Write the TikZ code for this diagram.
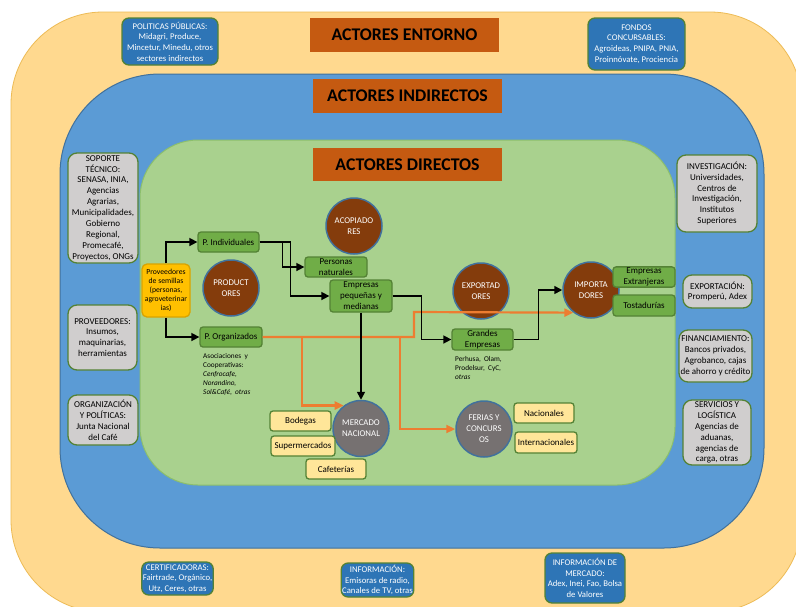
\documentclass[tikz,border=0pt]{standalone}
\usepackage{fontspec}
\setmainfont{Carlito}
\usetikzlibrary{arrows.meta}
\definecolor{yelreg}{HTML}{FFD98F}
\definecolor{yelline}{HTML}{EDBB55}
\definecolor{blureg}{HTML}{5B9BD5}
\definecolor{bluline}{HTML}{41719C}
\definecolor{grnreg}{HTML}{A9D18E}
\definecolor{grnline}{HTML}{8CBF6C}
\definecolor{titlec}{HTML}{C55A11}
\definecolor{boxblue}{HTML}{2E75B6}
\definecolor{dgreen}{HTML}{548235}
\definecolor{greyc}{HTML}{D0CECE}
\definecolor{mgreen}{HTML}{70AD47}
\definecolor{lyellow}{HTML}{FFE699}
\definecolor{provy}{HTML}{FFC000}
\definecolor{provline}{HTML}{D9A300}
\definecolor{brownc}{HTML}{843C0C}
\definecolor{greycirc}{HTML}{767171}
\definecolor{orangec}{HTML}{ED7D31}
\begin{document}
\begin{tikzpicture}[x=1pt,y=-1pt,
  titlebox/.style={fill=titlec, minimum width=189, minimum height=34, inner sep=0pt, font=\fontsize{17.8}{20}\selectfont\bfseries},
  bluebox/.style={draw=dgreen, line width=1.3, fill=boxblue, rounded corners=7, text=white, align=center, inner sep=1pt, font=\fontsize{8.7}{10.6}\selectfont},
  greybox/.style={draw=dgreen, line width=1.3, fill=greyc, rounded corners=9, align=center, inner sep=1pt, font=\fontsize{9}{10.9}\selectfont},
  gbox/.style={draw=dgreen, line width=1.3, fill=mgreen, rounded corners=3, align=center, inner sep=1pt, font=\fontsize{9}{10.9}\selectfont},
  ybox/.style={draw=dgreen, line width=1.3, fill=lyellow, rounded corners=3, align=center, inner sep=1pt, font=\fontsize{9}{10.9}\selectfont},
  provbox/.style={draw=provline, line width=1.3, fill=provy, rounded corners=5, align=center, inner sep=1pt, font=\fontsize{7.7}{8.9}\selectfont},
  bcirc/.style={circle, minimum size=56, inner sep=0pt, fill=brownc, draw=bluline, line width=1.5, text=white, align=center, font=\fontsize{8.8}{11}\selectfont},
  gcirc/.style={bcirc, fill=greycirc},
  note/.style={anchor=north west, inner sep=0pt, align=left, font=\fontsize{7.3}{9}\selectfont},
  arr/.style={line width=1.6, -{Triangle[length=8pt,width=8pt]}},
  oarr/.style={draw=orangec, line width=2.2, -{Triangle[length=9pt,width=8pt]}}
]
\useasboundingbox (0,0) rectangle (796,606);
\fill[white] (0,0) rectangle (796,606);
% regions
\draw[yelline, line width=0.8, fill=yelreg, rounded corners=92] (11,12) rectangle (802,612);
\draw[bluline, line width=1, fill=blureg, rounded corners=100] (60,74) rectangle (764,548);
\draw[grnline, line width=1, fill=grnreg, rounded corners=58] (140,140) rectangle (675,485);
% titles
\node[titlebox] (tE) at (404.5,35) {ACTORES ENTORNO};
\node[titlebox] (tI) at (407.5,96) {ACTORES INDIRECTOS};
\node[titlebox, minimum height=33] (tD) at (407.5,164.5) {ACTORES DIRECTOS};
% environment boxes
\node[bluebox, minimum width=96, minimum height=47] (pp) at (170,41.5) {POLITICAS PÚBLICAS:\\Midagri, Produce,\\Mincetur, Minedu, otros\\sectores indirectos};
\node[bluebox, minimum width=97, minimum height=52] (fc) at (636.5,44) {FONDOS\\CONCURSABLES:\\Agroideas, PNIPA, PNIA,\\Proinnóvate, Prociencia};
\node[bluebox, minimum width=71, minimum height=33] (cert) at (177.5,578.5) {CERTIFICADORAS:\\Fairtrade, Orgánico,\\Utz, Ceres, otras};
\node[bluebox, minimum width=71, minimum height=34] (info) at (377.5,580) {INFORMACIÓN:\\Emisoras de radio,\\Canales de TV, otras};
\node[bluebox, minimum width=80, minimum height=50] (infm) at (585,578) {INFORMACIÓN DE\\MERCADO:\\Adex, Inei, Fao, Bolsa\\de Valores};
% indirect boxes
\node[greybox, minimum width=70, minimum height=110] (sop) at (103,208) {SOPORTE\\TÉCNICO:\\SENASA, INIA,\\Agencias\\Agrarias,\\Municipalidades,\\Gobierno\\Regional,\\Promecafé,\\Proyectos, ONGs};
\node[greybox, minimum width=69, minimum height=65] (prv) at (102.5,337.5) {PROVEEDORES:\\Insumos,\\maquinarias,\\herramientas};
\node[greybox, minimum width=70, minimum height=50] (org) at (103,420) {ORGANIZACIÓN\\Y POLÍTICAS:\\Junta Nacional\\del Café};
\node[greybox, minimum width=80, minimum height=77] (inv) at (717,193.5) {INVESTIGACIÓN:\\Universidades,\\Centros de\\Investigación,\\Institutos\\Superiores};
\node[greybox, minimum width=69, minimum height=33] (exp) at (717.5,291.5) {EXPORTACIÓN:\\Promperú, Adex};
\node[greybox, minimum width=73, minimum height=52] (fin) at (715.5,356) {FINANCIAMIENTO:\\Bancos privados,\\Agrobanco, cajas\\de ahorro y crédito};
\node[greybox, minimum width=68, minimum height=65] (serv) at (717,432.5) {SERVICIOS Y\\LOGÍSTICA\\Agencias de\\aduanas,\\agencias de\\carga, otras};
% direct actors: circles
\node[bcirc] (prod) at (231,288) {PRODUCT\\ORES};
\node[bcirc] (acop) at (354,226) {ACOPIADO\\RES};
\node[bcirc] (expo) at (481,291) {EXPORTAD\\ORES};
\node[bcirc] (imp) at (591,290) {IMPORTA\\DORES};
\node[gcirc] (merc) at (361,428.5) {MERCADO\\NACIONAL};
\node[gcirc] (feri) at (484,429) {FERIAS Y\\CONCURS\\OS};
% direct actors: boxes
\node[provbox, minimum width=48, minimum height=53] (prov) at (166,290.5) {Proveedores\\de semillas\\(personas,\\agroveterinar\\ias)};
\node[gbox, minimum width=61, minimum height=20] (pind) at (228.5,242) {P. Individuales};
\node[gbox, minimum width=62, minimum height=20] (porg) at (231,337) {P. Organizados};
\node[gbox, minimum width=62, minimum height=20] (pnat) at (336,267) {Personas\\naturales};
\node[gbox, minimum width=62, minimum height=32] (epym) at (361,296) {Empresas\\pequeñas y\\medianas};
\node[gbox, minimum width=61, minimum height=21] (gem) at (482.5,339.5) {Grandes\\Empresas};
\node[gbox, minimum width=62, minimum height=20] (eext) at (644,277) {Empresas\\Extranjeras};
\node[gbox, minimum width=62, minimum height=21] (tost) at (644,305.5) {Tostadurías};
\node[ybox, minimum width=61, minimum height=20] (bod) at (300.5,421) {Bodegas};
\node[ybox, minimum width=64, minimum height=20] (sup) at (303,446) {Supermercados};
\node[ybox, minimum width=60, minimum height=20] (caf) at (336,469) {Cafeterías};
\node[ybox, minimum width=60, minimum height=20] (nac) at (544,413) {Nacionales};
\node[ybox, minimum width=62, minimum height=21] (int) at (546,442.5) {Internacionales};
% notes
\node[note] (nasoc) at (203,353) {Asociaciones\ \ y\\Cooperativas:\\\textit{Cenfrocafe,}\\\textit{Norandino,}\\\textit{Sol\&Café},\ \ \textit{otras}};
\node[note] (nper) at (455,356) {Perhusa,\ \ Olam,\\Prodelsur,\ \ CyC,\\\textit{otras}};
% orange connectors
\coordinate (oj) at (414,312);
\coordinate (oa) at (302,337);
\coordinate (ob) at (400,337);
\draw[oarr] (porg.east) -| (oj) -- (imp.232);
\draw[oarr] (oa) |- (merc.127);
\draw[oarr] (ob) |- (feri.west);
% black connectors
\draw[arr] (prov.north) |- (pind.west);
\draw[arr] (prov.south) |- (porg.west);
\draw[arr] (pind.east) -- ++(23,0) |- (pnat.west);
\draw[arr] (pind.east) -- ++(31,0) |- (epym.west);
\draw[arr] (epym.east) -- ++(29,0) |- (gem.west);
\draw[arr] (epym.south) -- (merc.north);
\draw[arr] (gem.east) -- ++(25,0) |- (imp.west);
\end{tikzpicture}
\end{document}
